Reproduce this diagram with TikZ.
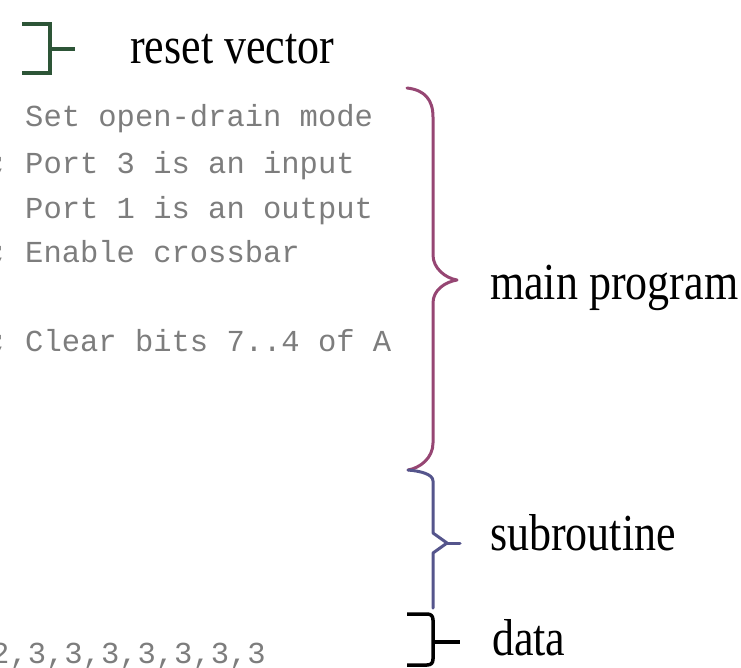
\documentclass[tikz,border=0pt]{standalone}
\usepackage{fontspec}
\setmainfont{Liberation Serif}
\newfontfamily\codefont{Liberation Mono}
\definecolor{brgreen}{RGB}{45,85,55}
\definecolor{brpink}{RGB}{150,70,115}
\definecolor{brblue}{RGB}{85,85,140}
\definecolor{codegray}{RGB}{125,125,125}
\tikzset{
  code/.style={anchor=base west, inner sep=0pt, text=codegray, font=\codefont\fontsize{30.5}{36}\selectfont},
  lbl/.style={anchor=base west, inner sep=0pt, text=black, font=\fontsize{44}{52}\selectfont},
  brace/.style={line width=3pt, line join=round, line cap=round},
}
\newcommand{\talltext}[1]{\scalebox{1}[1.18]{#1}}
\begin{document}
\begin{tikzpicture}[x=1pt,y=-1pt]
\useasboundingbox (0,0) rectangle (741,667);

% code lines
\node[code] (l1) at (25,126) {Set open-drain mode};
\node[code] (s2) at (-10,173) {;};
\node[code] (l2) at (25,173) {Port 3 is an input};
\node[code] (l3) at (25,218) {Port 1 is an output};
\node[code] (s4) at (-10,262) {;};
\node[code] (l4) at (25,262) {Enable crossbar};
\node[code] (s5) at (-10,351) {;};
\node[code] (l5) at (25,351) {Clear bits 7..4 of A};
\node[code] (d1) at (-9,663) {2,3,3,3,3,3,3,3};

% labels
\node[lbl] (reset) at (130,63) {\talltext{reset vector}};
\node[lbl] (main) at (490,299) {\talltext{main program}};
\node[lbl] (sub) at (490,550) {\talltext{subroutine}};
\node[lbl] (data) at (492,655) {\talltext{data}};

% reset vector bracket
\draw[brace,brgreen,line width=3.5pt,line cap=butt,line join=miter] (22,24) -- (50,24) -- (50,73) -- (22,73);
\draw[brgreen,line width=3.5pt] (50,49) -- (75,49);

% main program brace
\draw[brace,brpink] (407,88) .. controls (425,90) and (433,100) .. (433,117) -- (433,255)
  .. controls (433,268) and (445,278) .. (457,280)
  .. controls (445,282) and (433,290) .. (433,303) -- (433,443)
  .. controls (433,458) and (420,468) .. (408,470);

% subroutine brace
\draw[brace,brblue] (408,470) .. controls (420,471) and (433,474) .. (433,481) -- (433,533)
  -- (447,543) -- (433,553) -- (433,608);
\draw[brace,brblue] (447,543) -- (460,543);

% data brace
\draw[black,line width=3.5pt,line join=round] (407,614) -- (427,614) .. controls (431,614) and (433,616) .. (433,620)
  -- (433,659) .. controls (433,663) and (431,665) .. (427,665) -- (407,665);
\draw[black,line width=3.5pt] (433,642) -- (460,642);
\end{tikzpicture}
\end{document}
